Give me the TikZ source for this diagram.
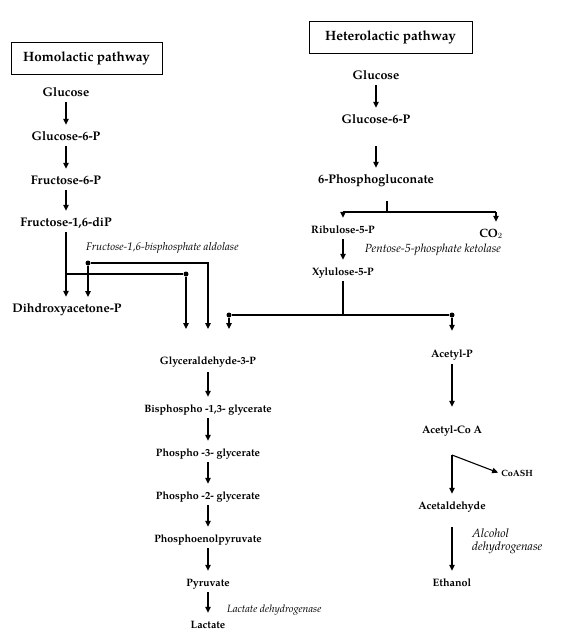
\documentclass[tikz,border=0pt]{standalone}
\usepackage{fontspec}
\setmainfont{TeX Gyre Pagella}
\usetikzlibrary{arrows.meta}
\begin{document}
\begin{tikzpicture}[x=1pt,y=-1pt,
  met/.style={font=\bfseries\fontsize{12.5}{14}\selectfont, text height=8pt, text depth=2pt, inner ysep=4pt, inner xsep=2pt},
  mets/.style={font=\bfseries\fontsize{10.7}{12}\selectfont, text height=8pt, text depth=2pt, inner ysep=4pt, inner xsep=2pt},
  metr/.style={font=\bfseries\fontsize{10.8}{12}\selectfont, text height=8pt, text depth=2pt, inner ysep=4pt, inner xsep=2pt},
  enz/.style={font=\itshape\fontsize{11}{13}\selectfont, inner sep=0pt},
  titlebox/.style={draw, line width=1pt, font=\bfseries\fontsize{13.5}{16}\selectfont, minimum height=32pt},
  arr/.style={-{Triangle[length=6pt,width=5.5pt]}, line width=1.1pt, shorten >=3pt},
  ln/.style={line width=1.1pt},
  dot/.style={circle, fill, inner sep=0pt, minimum size=5pt}]
\useasboundingbox (0,0) rectangle (563,643);

% titles
\node[titlebox, minimum width=151pt] (homo) at (86.5,58) {Homolactic pathway};
\node[titlebox, minimum width=163pt] (hetero) at (390.5,37) {Heterolactic pathway};

% homolactic column
\node[met] (hg) at (66,93) {Glucose};
\node[met] (hg6) at (66,137) {Glucose-6-P};
\node[met] (hf6) at (66,181) {Fructose-6-P};
\node[met] (hf16) at (66,223) {Fructose-1,6-diP};
\node[met] (dhap) at (67,309) {Dihdroxyacetone-P};
\draw[arr] (hg) -- (hg6);
\draw[arr] (hg6) -- (hf6);
\draw[arr] (hf6) -- (hf16);
\draw[arr] (hf16) -- (hf16 |- dhap.north);
\node[enz, anchor=west] (ald) at (86,248) {Fructose-1,6-bisphosphate aldolase};

% aldolase branches
\coordinate (j1) at (66,274);
\node[dot] (d1) at (186,274) {};
\coordinate (t1) at (186,332);
\draw[ln] (j1) -- (d1);
\draw[arr] (d1) -- (t1);
\node[dot] (d2) at (88,263) {};
\coordinate (c2) at (208,263);
\coordinate (t2) at (208,332);
\coordinate (t2b) at (88,300);
\draw[arr] (d2) -- (c2) -- (t2);
\draw[arr] (d2) -- (t2b);

% heterolactic column
\node[met] (xg) at (376,76) {Glucose};
\node[met] (xg6) at (376,120) {Glucose-6-P};
\node[met] (pg) at (376,180) {6-Phosphogluconate};
\draw[arr] (xg) -- (xg6);
\draw[arr, shorten <=17pt] (xg6) -- (pg);
\coordinate (s1) at (387,201);
\coordinate (s2) at (387,212);
\coordinate (sl) at (343,212);
\coordinate (sr) at (496,212);
\draw[ln] (s1) -- (s2);
\draw[ln] (sl) -- (sr);
\node[metr] (rib) at (343,230) {Ribulose-5-P};
\node[met, font=\bfseries\fontsize{12}{14}\selectfont] (co2) at (491,234) {CO$_2$};
\node[enz, font=\itshape\fontsize{11.8}{13}\selectfont] (ket) at (433,250) {Pentose-5-phosphate ketolase};
\draw[arr] (sl) -- (rib);
\draw[arr] (sr) -- (sr |- co2.north);
\node[metr] (xyl) at (343,272) {Xylulose-5-P};
\draw[arr] (rib) -- (xyl);
\coordinate (x1) at (343,315);
\draw[ln] (xyl) -- (x1);

% ketolase split
\node[dot] (d3) at (229,315) {};
\node[dot] (d4) at (452,315) {};
\coordinate (t3) at (229,332);
\draw[ln] (d3) -- (d4);
\draw[arr] (d3) -- (t3);

% glycolysis lower part
\node[mets] (gap) at (208,361) {Glyceraldehyde-3-P};
\node[mets] (bpg) at (208,409) {Bisphospho -1,3- glycerate};
\node[mets] (p3g) at (208,453) {Phospho -3- glycerate};
\node[mets] (p2g) at (208,496) {Phospho -2- glycerate};
\node[mets] (pep) at (208,539) {Phosphoenolpyruvate};
\node[mets] (pyr) at (208,583) {Pyruvate};
\node[mets] (lac) at (208,625) {Lactate};
\draw[arr, shorten <=2pt] (gap) -- (bpg);
\draw[arr] (bpg) -- (p3g);
\draw[arr] (p3g) -- (p2g);
\draw[arr] (p2g) -- (pep);
\draw[arr] (pep) -- (pyr);
\draw[arr] (pyr) -- (lac);
\node[enz, font=\itshape\fontsize{10.5}{12}\selectfont, anchor=west] (ldh) at (227,610) {Lactate dehydrogenase};

% ethanol branch
\node[metr] (acp) at (452,354) {Acetyl-P};
\node[metr] (acoa) at (452,430) {Acetyl-Co A};
\node[metr] (acald) at (452,506) {Acetaldehyde};
\node[metr] (eth) at (452,583) {Ethanol};
\node[font=\bfseries\fontsize{9}{10}\selectfont, inner sep=2pt] (coash) at (517,473) {CoASH};
\draw[arr, shorten >=14pt] (d4) -- (acp);
\draw[arr, shorten <=1pt, shorten >=14pt] (acp) -- (acoa);
\coordinate (cb) at (452,455);
\draw[arr] (cb) -- (acald);
\draw[arr, shorten >=1pt] (cb) -- (coash.west);
\draw[arr, shorten <=12pt] (acald) -- (eth);
\node[enz, font=\itshape\fontsize{12}{13}\selectfont, align=left, anchor=west] (adh) at (472,541) {Alcohol\\dehydrogenase};
\end{tikzpicture}
\end{document}
